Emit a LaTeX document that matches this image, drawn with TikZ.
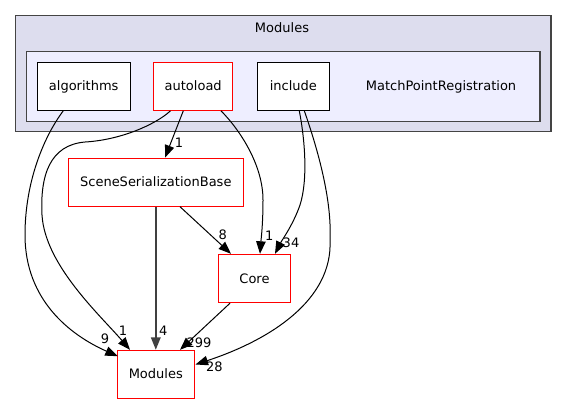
\documentclass[tikz,border=0pt]{standalone}
\usepackage{fontspec}
\setmainfont{DejaVu Sans}
\usetikzlibrary{arrows.meta}
\definecolor{clouter}{HTML}{DDDDEE}
\definecolor{clinner}{HTML}{EEEEFF}
\definecolor{clborder}{HTML}{444444}
\definecolor{edgegray}{HTML}{404040}
\tikzset{
  every node/.style={font=\fontsize{13bp}{15bp}\selectfont, inner sep=0pt, text height=9.5bp, text depth=0.5bp},
  clusterbox/.style={draw=clborder, line width=1.3bp, rectangle},
  dirbox/.style={draw=black, fill=white, line width=1bp, rectangle, minimum height=48bp},
  reddirbox/.style={draw=red, fill=white, line width=1bp, rectangle, minimum height=48bp},
  dep/.style={draw=black, line width=1bp, -{Triangle[length=12.5bp,width=9.5bp]}},
  depthick/.style={draw=edgegray, line width=2bp, -{Triangle[length=12.5bp,width=9.5bp]}},
  elabel/.style={anchor=center}
}
\begin{document}
\begin{tikzpicture}[x=1bp,y=-1bp]
\useasboundingbox (0,0) rectangle (567,404);
% clusters
\node[clusterbox, fill=clouter, minimum width=535.3bp, minimum height=116bp] (clA) at (283.35,73.7) {};
\node (clAtitle) at (282,27.8) {Modules};
\node[clusterbox, fill=clinner, minimum width=513.7bp, minimum height=69.6bp] (clB) at (283.15,86.5) {};
\node (clBtitle) at (441,86.3) {MatchPointRegistration};
% nodes
\node[dirbox, minimum width=92.7bp] (alg) at (83.7,86.3) {algorithms};
\node[reddirbox, minimum width=79bp] (auto) at (193.2,86.3) {autoload};
\node[dirbox, minimum width=72bp] (inc) at (293.3,86.3) {include};
\node[reddirbox, minimum width=175bp] (ssb) at (155.8,182.2) {SceneSerializationBase};
\node[reddirbox, minimum width=72.4bp, minimum height=48.4bp] (core) at (254.5,278.5) {Core};
\node[reddirbox, minimum width=77bp] (mods) at (155.8,374.3) {Modules};
% edges
\draw[dep] ([xshift=-20.4bp]alg.south) .. controls (45,135) and (25,180) .. (25,235)
  .. controls (25,300) and (70,335) .. ([shift={(1bp,-6.4bp)}]mods.north west);
\node[elabel] (l1) at (105,339) {9};
\draw[dep] ([xshift=-22.7bp]auto.south) .. controls (155,125) and (120,140) .. (85,142)
  .. controls (50,145) and (40,175) .. (42,215)
  .. controls (45,265) and (100,315) .. ([xshift=-25.8bp]mods.north);
\node[elabel] (l2) at (123,331) {1};
\draw[dep] ([xshift=-9.9bp]auto.south) -- ([xshift=9.2bp]ssb.north);
\node[elabel] (l3) at (179,143.3) {1};
\draw[dep] ([xshift=27.8bp]auto.south) .. controls (240,130) and (263,165) .. (263,200)
  .. controls (263,225) and (261,240) .. ([xshift=5.5bp]core.north);
\node[elabel] (l4) at (269.3,236) {1};
\draw[dep] ([xshift=6bp]inc.south) .. controls (305,140) and (308,180) .. (300,205)
  .. controls (293,225) and (282,240) .. ([xshift=20.5bp]core.north);
\node[elabel] (l5) at (291,243.3) {34};
\draw[dep] ([xshift=11bp]inc.south) .. controls (318,150) and (332,200) .. (330,240)
  .. controls (333,300) and (270,340) .. ([shift={(0.7bp,-14.7bp)}]mods.north east);
\node[elabel] (l6) at (214.3,366.7) {28};
\draw[depthick] (ssb.south) -- (mods.north);
\node[elabel] (l7) at (163.3,331) {4};
\draw[dep] ([xshift=24.2bp]ssb.south) -- ([xshift=-23.5bp]core.north);
\node[elabel] (l8) at (222.7,235) {8};
\draw[dep] ([xshift=-24.5bp]core.south) -- ([xshift=24.2bp]mods.north);
\node[elabel] (l9) at (199,343.3) {299};
\end{tikzpicture}
\end{document}
